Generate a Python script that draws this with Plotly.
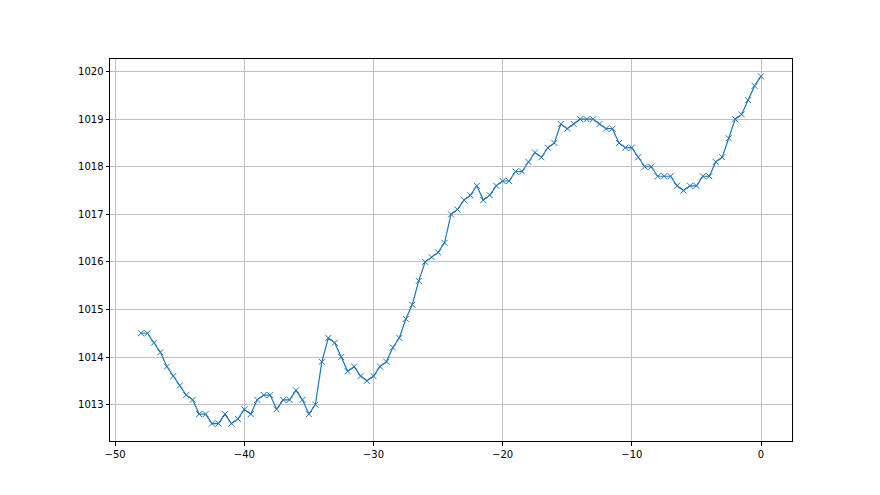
import numpy as np
import plotly.graph_objects as go

x_vals = [i * 0.5 for i in range(-96, 1)]
pressure = [
    1014.5, 1014.5, 1014.3, 1014.1, 1013.8, 1013.6, 1013.4, 1013.2, 1013.1, 1012.8,
    1012.8, 1012.6, 1012.6, 1012.8, 1012.6, 1012.7, 1012.9, 1012.8, 1013.1, 1013.2,
    1013.2, 1012.9, 1013.1, 1013.1, 1013.3, 1013.1, 1012.8, 1013.0, 1013.9, 1014.4,
    1014.3, 1014.0, 1013.7, 1013.8, 1013.6, 1013.5, 1013.6, 1013.8, 1013.9, 1014.2,
    1014.4, 1014.8, 1015.1, 1015.6, 1016.0, 1016.1, 1016.2, 1016.4, 1017.0, 1017.1,
    1017.3, 1017.4, 1017.6, 1017.3, 1017.4, 1017.6, 1017.7, 1017.7, 1017.9, 1017.9,
    1018.1, 1018.3, 1018.2, 1018.4, 1018.5, 1018.9, 1018.8, 1018.9, 1019.0, 1019.0,
    1019.0, 1018.9, 1018.8, 1018.8, 1018.5, 1018.4, 1018.4, 1018.2, 1018.0, 1018.0,
    1017.8, 1017.8, 1017.8, 1017.6, 1017.5, 1017.6, 1017.6, 1017.8, 1017.8, 1018.1,
    1018.2, 1018.6, 1019.0, 1019.1, 1019.4, 1019.7, 1019.9,
]
x_ticks = [-50, -40, -30, -20, -10, 0]
y_ticks = [1013, 1014, 1015, 1016, 1017, 1018, 1019, 1020]

fig = go.Figure()
fig.add_trace(go.Scatter(
    x=x_vals, y=pressure, mode="lines+markers",
    line=dict(color="#1f77b4", width=1.2),
    marker=dict(symbol="x-thin", size=6, color="#1f77b4",
                line=dict(color="#1f77b4", width=1)),
    showlegend=False,
))

axis_common = dict(
    showgrid=True, gridcolor="#c0c0c0", gridwidth=0.8,
    showline=True, linecolor="black", linewidth=1, mirror=True,
    ticks="outside", ticklen=3.5, tickcolor="black", tickwidth=0.8,
    zeroline=False, tickfont=dict(family="DejaVu Sans", size=10, color="black"),
)
fig.update_xaxes(range=[-50.4, 2.4], tickvals=x_ticks,
                 ticktext=[f"\u2212{abs(v)}" if v < 0 else str(v) for v in x_ticks],
                 **axis_common)
fig.update_yaxes(range=[1012.235, 1020.265], tickvals=y_ticks, **axis_common)

fig.update_layout(
    width=880, height=495,
    margin=dict(l=102, r=96, t=51, b=62),
    paper_bgcolor="white", plot_bgcolor="white",
)
fig.write_html("out.html")
